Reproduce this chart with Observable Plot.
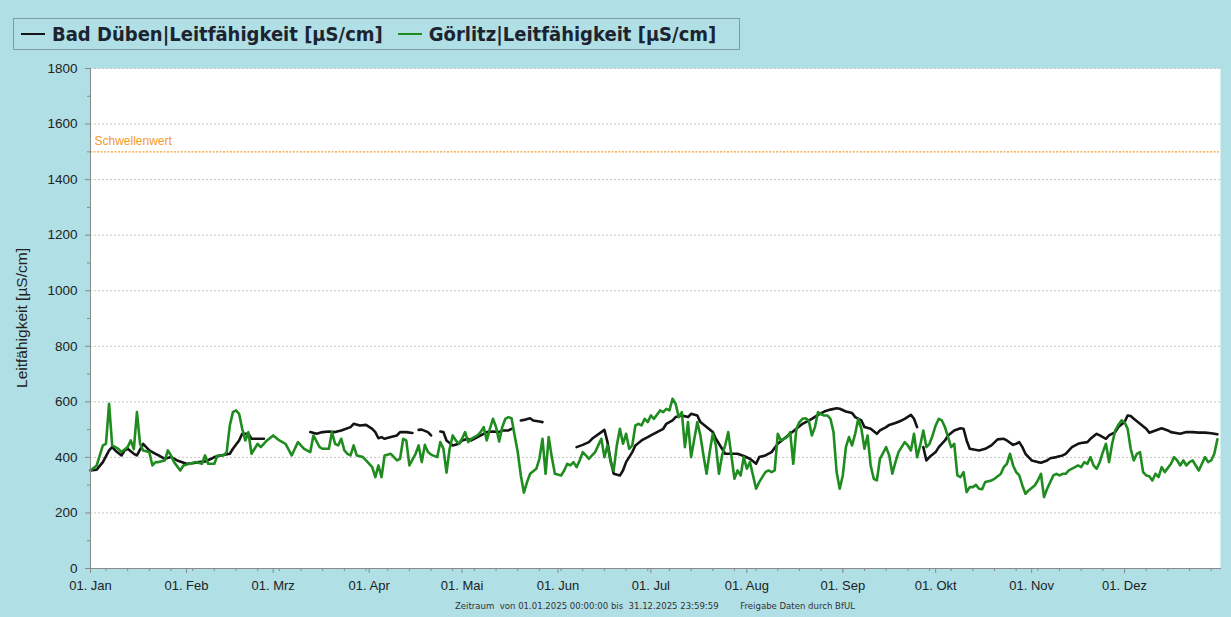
<!DOCTYPE html>
<html><head><meta charset="utf-8">
<script src="https://cdn.jsdelivr.net/npm/d3@7"></script>
<script src="https://cdn.jsdelivr.net/npm/@observablehq/plot@0.6"></script>
<style>
html,body{margin:0;padding:0;}
body{width:1231px;height:617px;background:#b0dfe5;position:relative;overflow:hidden;font-family:"Liberation Sans",Arial,sans-serif;}
#legend{position:absolute;left:13px;top:18px;width:725px;height:30px;border:1px solid #7d9da2;display:flex;align-items:center;box-sizing:content-box;}
#legend .item{display:flex;align-items:center;margin-left:7px;margin-right:8px;}
#legend .sw{display:inline-block;width:24px;height:2px;margin-right:7px;}
#legend .lt{font-family:"DejaVu Sans Condensed","DejaVu Sans",sans-serif;font-weight:bold;font-size:20px;color:#1b2430;white-space:nowrap;}
#chart{position:absolute;left:0;top:55px;}
#ylabel{position:absolute;left:22px;top:318px;transform:translate(-50%,-50%) rotate(-90deg);font-size:15.5px;color:#222;white-space:nowrap;}
#footer{position:absolute;left:455px;top:600px;font-size:9.5px;color:#333;white-space:pre;font-family:"DejaVu Sans Condensed","Liberation Sans",sans-serif;}
</style></head>
<body>
<div id="legend"></div>
<div id="chart"></div>
<div id="ylabel"></div>
<div id="footer"></div>
<script>
// Series names (legend)
const seriesNames = ["Bad Düben|Leitfähigkeit [µS/cm]", "Görlitz|Leitfähigkeit [µS/cm]"];
const seriesColors = ["#141414", "#1f8c1f"];
const monthLabels = ["Jan","Feb","Mrz","Apr","Mai","Jun","Jul","Aug","Sep","Okt","Nov","Dez"];
const yTicks = [0,200,400,600,800,1000,1200,1400,1600,1800];
const yMinorTicks = [100,300,500,700,900,1100,1300,1500,1700];
const yLabel = "Leitfähigkeit [µS/cm]";
const threshold = 1500;
const thresholdLabel = "Schwellenwert";
const footerParts = ["Zeitraum  von 01.01.2025 00:00:00 bis  31.12.2025 23:59:59", "Freigabe Daten durch BfUL"];

// [day of year 2025 (0 = 1 Jan), µS/cm]; null = no data (gap)
const dubenByDay = [[0,353],[2,356],[4,383],[6,425],[7,437],[8,425],[10,407],[11,425],[12,431],[14,413],[15,407],[17,449],[19,425],[21,413],[22,407],[24,395],[26,401],[28,389],[31,377],[33,379],[35,383],[37,385],[39,395],[40,401],[42,407],[45,413],[46,431],[48,461],[49,485],[51,485],[52,467],[54,467],[56,467],[57,null],
[71,491],[73,485],[75,491],[77,493],[79,491],[81,497],[84,509],[85,521],[87,515],[89,517],[91,503],[92,491],[93,469],[94,473],[95,467],[97,473],[99,479],[100,491],[102,491],[104,488],[105,null],
[106,499],[107,500],[109,491],[110,479],[111,null],
[113,493],[114,491],[115,461],[117,443],[119,449],[120,461],[122,467],[123,461],[125,473],[127,485],[128,491],[130,493],[132,491],[133,497],[135,497],[136,503],[137,null],
[139,533],[140,535],[142,541],[143,533],[145,529],[146,527],[150,null],
[157,437],[159,445],[161,455],[162,467],[165,491],[166,499],[167,455],[168,389],[169,341],[171,335],[172,353],[173,383],[175,419],[176,443],[178,461],[180,473],[181,479],[183,491],[185,503],[186,521],[188,533],[189,545],[191,551],[193,545],[194,557],[196,551],[197,527],[199,509],[201,491],[202,467],[204,431],[205,413],[207,413],[209,413],[211,405],[213,395],[215,377],[216,401],[218,407],[220,419],[222,449],[224,467],[226,485],[228,503],[230,521],[233,539],[235,553],[237,565],[239,572],[241,577],[242,575],[244,565],[246,560],[247,545],[249,533],[250,509],[252,503],[254,485],[255,497],[257,509],[258,517],[260,524],[262,533],[263,539],[265,553],[266,539],[267,509],[268,null],
[269,437],[270,389],[271,401],[273,419],[274,437],[276,461],[277,479],[279,497],[281,505],[282,503],[283,461],[284,431],[287,425],[289,431],[291,443],[293,465],[295,467],[296,461],[298,445],[299,449],[300,455],[301,437],[302,413],[304,389],[306,383],[307,381],[309,389],[310,397],[312,401],[314,407],[315,413],[317,437],[319,449],[320,452],[322,455],[323,467],[325,485],[326,479],[328,467],[329,479],[331,491],[332,509],[334,527],[335,551],[336,549],[337,539],[339,521],[341,503],[342,489],[344,497],[346,505],[348,497],[349,491],[352,485],[354,491],[356,491],[358,489],[360,489],[362,487],[364,483]];

const goerlitzByDay = [[0,353],[2,371],[4,443],[5,449],[6,593],[7,443],[9,431],[10,419],[12,437],[13,461],[14,430],[15,563],[16,449],[17,425],[19,419],[20,371],[21,383],[22,383],[24,389],[25,425],[26,407],[27,383],[29,353],[30,371],[32,377],[34,383],[36,377],[37,407],[38,377],[40,377],[41,407],[43,407],[44,419],[45,515],[46,563],[47,569],[48,557],[49,503],[50,461],[51,491],[52,413],[53,431],[54,449],[55,437],[57,461],[59,479],[61,461],[62,455],[63,449],[65,407],[66,431],[67,455],[69,431],[71,419],[72,479],[74,437],[75,431],[77,431],[78,491],[79,449],[80,443],[81,467],[82,425],[83,413],[84,407],[85,443],[86,407],[88,401],[89,389],[91,365],[92,329],[93,371],[94,329],[95,407],[97,413],[99,389],[100,395],[101,467],[102,461],[103,371],[105,413],[106,443],[107,383],[108,445],[109,419],[110,410],[112,401],[113,455],[114,431],[115,345],[116,431],[117,479],[118,461],[119,449],[120,467],[121,491],[122,455],[123,467],[125,479],[126,491],[127,509],[128,461],[129,503],[130,539],[131,509],[132,457],[133,509],[134,539],[135,545],[136,541],[137,479],[138,419],[139,335],[140,273],[141,311],[142,341],[144,359],[145,395],[146,467],[147,341],[148,473],[149,401],[150,341],[152,335],[153,353],[154,377],[155,371],[156,383],[157,365],[158,389],[159,419],[160,407],[161,395],[162,407],[163,419],[165,467],[166,401],[167,443],[168,383],[169,353],[170,443],[171,503],[172,449],[173,485],[174,431],[175,443],[176,515],[177,521],[178,515],[179,539],[180,527],[181,551],[182,539],[184,569],[185,563],[186,575],[187,569],[188,611],[189,593],[190,545],[191,563],[192,437],[193,527],[194,401],[196,527],[197,479],[198,407],[199,341],[200,419],[201,485],[202,443],[203,341],[204,407],[205,443],[206,491],[207,407],[208,323],[209,353],[210,335],[211,401],[212,359],[213,383],[215,287],[216,311],[218,347],[219,353],[220,347],[221,353],[222,485],[223,461],[224,467],[225,473],[226,491],[227,377],[228,503],[229,527],[230,539],[231,541],[232,533],[233,479],[234,509],[235,563],[236,555],[237,551],[238,551],[239,539],[240,491],[241,347],[242,287],[243,335],[244,437],[245,473],[246,443],[247,485],[248,539],[249,503],[250,431],[251,479],[252,371],[253,323],[254,317],[255,395],[257,437],[258,407],[259,341],[260,383],[261,419],[263,455],[264,443],[265,425],[266,485],[267,401],[268,443],[269,497],[270,437],[271,449],[272,479],[273,515],[274,539],[275,533],[276,509],[277,473],[278,437],[279,449],[280,335],[281,329],[282,347],[283,275],[284,293],[285,293],[286,301],[287,287],[288,285],[289,311],[291,317],[292,323],[294,340],[295,365],[296,377],[297,413],[298,371],[299,347],[300,335],[301,299],[302,269],[303,281],[305,299],[306,317],[307,341],[308,257],[309,287],[310,311],[311,335],[312,341],[313,335],[314,341],[315,341],[316,353],[318,365],[319,371],[320,365],[321,383],[322,377],[323,401],[324,371],[325,359],[326,383],[327,419],[328,449],[329,383],[330,449],[331,497],[332,517],[333,533],[334,527],[335,503],[336,430],[337,389],[338,413],[339,419],[340,347],[341,335],[342,332],[343,317],[344,341],[345,329],[346,365],[347,347],[349,377],[350,401],[351,389],[352,371],[353,389],[354,371],[355,383],[356,389],[357,371],[358,353],[359,377],[360,401],[361,383],[362,389],[363,413],[364,465]];

const yearStart = new Date(Date.UTC(2025,0,1));
const yearEnd = new Date(Date.UTC(2026,0,1));
const toRows = arr => arr.map(([d,v]) => ({date: d3.utcDay.offset(yearStart, d), value: v}));
const duben = toRows(dubenByDay);
const goerlitz = toRows(goerlitzByDay);
const monthStarts = d3.utcMonths(yearStart, yearEnd);
const weekTicks = d3.utcMondays(yearStart, yearEnd);

// legend
const legend = document.getElementById("legend");
seriesNames.forEach((name, i) => {
  const item = document.createElement("span"); item.className = "item";
  const sw = document.createElement("span"); sw.className = "sw"; sw.style.background = seriesColors[i];
  const lt = document.createElement("span"); lt.className = "lt"; lt.textContent = name;
  item.append(sw, lt); legend.append(item);
});
document.getElementById("ylabel").textContent = yLabel;
document.getElementById("footer").textContent = footerParts.join("        ");

const chart = Plot.plot({
  width: 1231, height: 545,
  marginLeft: 90, marginRight: 11, marginTop: 13, marginBottom: 32,
  style: {fontFamily: "'Liberation Sans', Arial, sans-serif", background: "transparent", color: "#222", overflow: "visible"},
  x: {type: "utc", domain: [yearStart, yearEnd]},
  y: {domain: [0, 1800]},
  marks: [
    Plot.frame({fill: "white", stroke: null}),
    Plot.gridY(yTicks.filter(v => v > 0), {stroke: "#c4c4c4", strokeOpacity: 1, strokeDasharray: "2,2"}),
    Plot.ruleY([threshold], {stroke: "#f5a030", strokeWidth: 1.3, strokeDasharray: "2,1.5"}),
    Plot.text([{label: thresholdLabel, value: threshold}], {y: "value", text: "label", frameAnchor: "left", textAnchor: "start", dx: 4, dy: -11, fill: "#f39a2b", fontSize: 12}),
    Plot.line(duben, {x: "date", y: "value", stroke: seriesColors[0], strokeWidth: 2.6}),
    Plot.line(goerlitz, {x: "date", y: "value", stroke: seriesColors[1], strokeWidth: 2.6}),
    Plot.frame({anchor: "left", stroke: "#8a8a8a"}),
    Plot.frame({anchor: "bottom", stroke: "#8a8a8a"}),
    Plot.axisY(yTicks, {tickSize: 5, tickPadding: 8, fontSize: 13.5, stroke: "#8a8a8a", fill: "#222",
      tickFormat: d => String(d), label: null}),
    Plot.axisY(yMinorTicks, {tickSize: 3, tickFormat: () => "", label: null, stroke: "#8a8a8a"}),
    Plot.axisX(weekTicks, {tickSize: 3, tickFormat: () => "", label: null, stroke: "#8a8a8a"}),
    Plot.axisX(monthStarts, {tickSize: 5, tickPadding: 7, fontSize: 13, stroke: "#8a8a8a", fill: "#222",
      tickFormat: d => "01. " + monthLabels[d.getUTCMonth()], label: null})
  ]
});
document.getElementById("chart").append(chart);
</script>
</body></html>
